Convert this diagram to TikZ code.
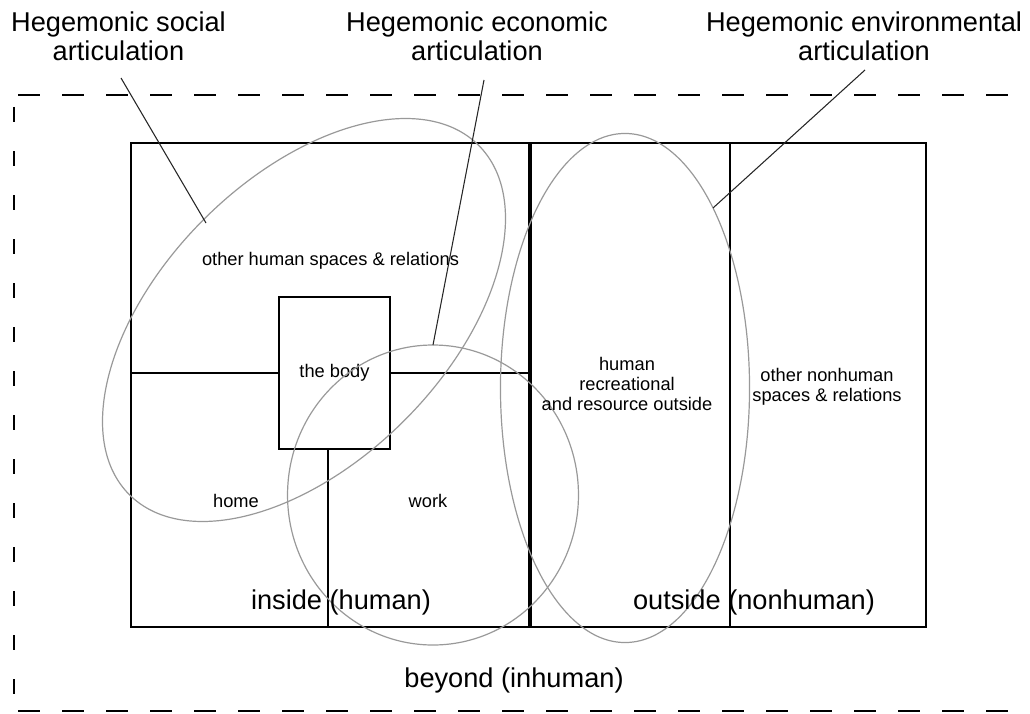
\documentclass[tikz,border=0pt]{standalone}
\usepackage{fontspec}
\setmainfont{Liberation Sans}
\usetikzlibrary{shapes.geometric}
\begin{document}
\begin{tikzpicture}[x=0.75pt,y=-0.75pt,
  bigtext/.style={font=\fontsize{20.4pt}{21.75pt}\selectfont, inner sep=0pt},
  smalltext/.style={font=\fontsize{13.7pt}{15pt}\selectfont, inner sep=0pt},
  hframe/.style={line width=2pt, dash pattern=on 16.5pt off 16.5pt},
  vframe/.style={line width=2pt, dash pattern=on 11.25pt off 21.75pt},
  boxline/.style={line width=2pt},
  thinline/.style={line width=1pt},
  ell/.style={draw=black!40, line width=0.9pt},
  leader/.style={draw=black!85, line width=0.8pt}
]
\useasboundingbox (0,0) rectangle (1030,713);
% beyond frame
\draw[hframe] (18,95) -- (1030,95);
\draw[vframe] (14,107) -- (14,713);
\draw[hframe] (18,711) -- (1030,711);
% main boxes
\draw[boxline] (131,143) rectangle (926,627);
\draw[line width=3pt] (529.5,143) -- (529.5,627);
\draw[line width=1.8pt] (730,143) -- (730,627);
% the body
\node[draw, line width=1pt, minimum width=83.25pt, minimum height=114pt, smalltext] (body) at (334.5,373) {the body};
\coordinate (leftwall) at (131,373);
\coordinate (midwall) at (529,373);
\coordinate (stem) at (328,627);
\draw[thinline] (leftwall) -- (body.west);
\draw[thinline] (body.east) -- (midwall);
\draw[thinline] (stem |- body.south) -- (stem);
% ellipses
\draw[ell, rotate around={45:(304,320)}] (304,320) ellipse [x radius=185.25pt, y radius=106.5pt];
\draw[ell] (433,495) ellipse [x radius=109.1pt, y radius=112.5pt];
\draw[ell] (625,388) ellipse [x radius=93.4pt, y radius=190.9pt];
% titles
\node[bigtext, align=center] (socT) at (118.5,36.5) {Hegemonic social\\articulation};
\node[bigtext, align=center] (ecoT) at (477,36.5) {Hegemonic economic\\articulation};
\node[bigtext, align=center] (envT) at (864,36.5) {Hegemonic environmental\\articulation};
% leaders
\coordinate (socA) at (121,78);
\coordinate (socB) at (206,223);
\coordinate (ecoA) at (484,80);
\coordinate (ecoB) at (433,345);
\coordinate (envA) at (865,70);
\coordinate (envB) at (713,208);
\draw[leader] (socA) -- (socB);
\draw[leader] (ecoA) -- (ecoB);
\draw[leader] (envA) -- (envB);
% labels
\node[smalltext, anchor=base] (ohs) at (330.5,265) {other human spaces \& relations};
\node[smalltext, anchor=base] (home) at (236,507) {home};
\node[smalltext, anchor=base] (work) at (428,507) {work};
\node[smalltext, align=center] (hro) at (627,384.3) {human\\recreational\\and resource outside};
\node[smalltext, align=center] (onh) at (827,387.2) {other nonhuman\\spaces \& relations};
\node[bigtext, anchor=base] (inside) at (341,609) {inside (human)};
\node[bigtext, anchor=base] (outside) at (754,609) {outside (nonhuman)};
\node[bigtext, anchor=base] (beyond) at (514,687) {beyond (inhuman)};
\end{tikzpicture}
\end{document}
